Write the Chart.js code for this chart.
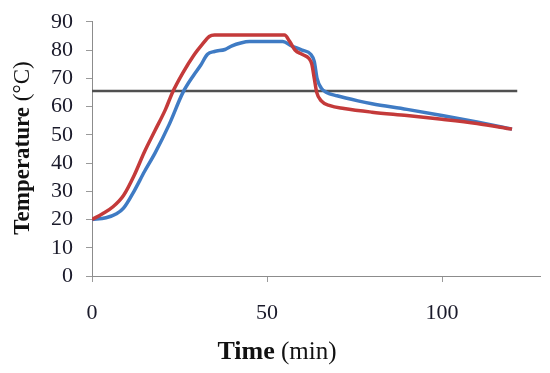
<!DOCTYPE html>
<html>
<head>
<meta charset="utf-8">
<script src="https://cdn.jsdelivr.net/npm/chart.js@4/dist/chart.umd.min.js"></script>
<style>
html,body{margin:0;padding:0;background:#fff;}
#wrap{width:550px;height:373px;position:relative;}
</style>
</head>
<body>
<div id="wrap"><canvas id="c" width="550" height="373"></canvas></div>
<script>
// ---- data ----
const timeBlue = [0,4,7,9,12,15,18,22,26,29,31,33,35,38,40,42.5,45,50,54.5,57,60,62.5,63.5,64.3,65.5,67,70,76,80,90,100,110,120];
const tempBlue = [20,20.6,22,24,30,37,43.5,53.5,65,71,74.5,78.5,79.5,80.2,81.5,82.5,83,83,83,81.5,80,78.5,76,70,66.5,65,63.8,62,61,59,56.8,54.5,52];
const timeRed  = [0,3,6,9,12,15,18,21,23,26,29,31.5,33.5,35,40,50,55,56.5,58,60,62,62.8,63.5,64.2,65.5,68,72,80,90,100,110,120];
const tempRed  = [20,22,24.5,28.5,35.5,44,51.5,59,65,72,78,82,84.8,85.3,85.3,85.3,85.3,83,80,78.5,77,75,70,65,62,60.3,59.3,58,56.8,55.5,54,52];
const timeRef  = [0,121.5];
const tempRef  = [65.5,65.5];
const xTickValues = [0,50,100];
const yTickValues = [0,10,20,30,40,50,60,70,80,90];

const pts = (xs, ys) => xs.map((x,i)=>({x:x,y:ys[i]}));
const FONT = "'Liberation Serif','Times New Roman',serif";

const titlePlugin = {
  id:'titles',
  afterDraw(chart){
    const ctx = chart.ctx;
    ctx.save();
    ctx.fillStyle = '#111';
    ctx.textBaseline = 'middle';
    ctx.textAlign = 'left';
    // x title
    const b1 = 'bold 26px ' + FONT, n1 = '25px ' + FONT;
    ctx.font = b1; const w1 = ctx.measureText('Time').width;
    ctx.font = n1; const w2 = ctx.measureText(' (min)').width;
    const cx = 277 - (w1+w2)/2, cy = 352;
    ctx.font = b1; ctx.fillText('Time', cx, cy);
    ctx.font = n1; ctx.fillText(' (min)', cx + w1, cy);
    // y title
    const b2 = 'bold 23px ' + FONT, n2 = '23px ' + FONT;
    ctx.font = b2; const w3 = ctx.measureText('Temperature').width;
    ctx.font = n2; const w4 = ctx.measureText(' (°C)').width;
    ctx.translate(23, 148);
    ctx.rotate(-Math.PI/2);
    const sx = -(w3+w4)/2;
    ctx.font = b2; ctx.fillText('Temperature', sx, 0);
    ctx.font = n2; ctx.fillText(' (°C)', sx + w3, 0);
    ctx.restore();
  }
};

new Chart(document.getElementById('c'), {
  type:'scatter',
  data:{
    datasets:[
      {label:'ref', data:pts(timeRef,tempRef), showLine:true, borderColor:'#505050', borderWidth:2.5, pointRadius:0, order:3},
      {label:'blue', data:pts(timeBlue,tempBlue), showLine:true, borderColor:'#3F7BC4', borderWidth:3.5, pointRadius:0, cubicInterpolationMode:'monotone', order:2},
      {label:'red', data:pts(timeRed,tempRed), showLine:true, borderColor:'#C43A3A', borderWidth:3.5, pointRadius:0, cubicInterpolationMode:'monotone', order:1}
    ]
  },
  options:{
    responsive:false,
    animation:false,
    devicePixelRatio:1,
    layout:{padding:{left:0,top:21,right:10,bottom:0}},
    plugins:{legend:{display:false},tooltip:{enabled:false}},
    scales:{
      x:{
        type:'linear', min:0, max:128,
        afterBuildTicks(s){ s.ticks = xTickValues.map(v=>({value:v})); },
        afterFit(s){ s.height = 97; },
        grid:{drawOnChartArea:false, drawTicks:true, tickLength:6, color:'#9a9a9a'},
        border:{color:'#8c8c8c', width:1},
        ticks:{color:'#1a1a2a', padding:18, autoSkip:false, font:{family:FONT, size:22}, maxRotation:0}
      },
      y:{
        type:'linear', min:0, max:90,
        afterBuildTicks(s){ s.ticks = yTickValues.map(v=>({value:v})); },
        afterFit(s){ s.width = 92; },
        grid:{drawOnChartArea:false, drawTicks:true, tickLength:6, color:'#9a9a9a'},
        border:{color:'#8c8c8c', width:1},
        ticks:{color:'#1a1a2a', padding:13, autoSkip:false, font:{family:FONT, size:22, lineHeight:0.8}}
      }
    }
  },
  plugins:[titlePlugin]
});
</script>
</body>
</html>
